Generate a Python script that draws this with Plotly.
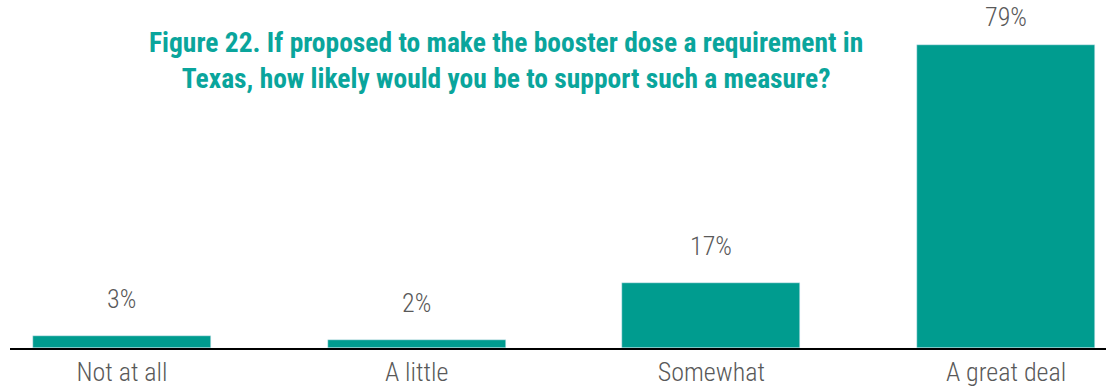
import plotly.graph_objects as go

categories = ["Not at all", "A little", "Somewhat", "A great deal"]
values = [3, 2, 17, 79]
value_labels = ["3%", "2%", "17%", "79%"]
title_lines = ["Figure 22. If proposed to make the booster dose a requirement in",
               "Texas, how likely would you be to support such a measure?"]

BAR = "#009C8F"
TITLE = "#0AA59C"
GREY = "#595959"
FONT = "Liberation Sans Narrow, Roboto Condensed, DejaVu Sans Condensed, sans-serif"

W, H = 1106, 387
ML, MR, MT, MB = 10, 0, 0, 37
YMAX = 90.7
plot_h = H - MT - MB
px_per_unit = plot_h / YMAX

fig = go.Figure()
fig.add_trace(go.Bar(x=list(range(len(categories))), y=values, marker_color=BAR,
                     width=0.604, hoverinfo="skip"))

label_h = 34
gap = 20
for i, (v, t) in enumerate(zip(values, value_labels)):
    room = (YMAX - v) * px_per_unit - label_h
    shift = max(0, min(gap, room))
    fig.add_annotation(x=i, y=v, text=t, showarrow=False, yanchor="bottom",
                       yshift=shift, font=dict(family=FONT, size=26, color=GREY, weight=300))

fig.add_annotation(xref="paper", yref="paper", x=(506 - ML) / (W - ML - MR), y=1.0 - 24 / plot_h,
                   xanchor="center", yanchor="top", showarrow=False,
                   text="<br>".join(title_lines), align="center",
                   font=dict(family=FONT, size=27.5, color=TITLE, weight="bold"))

fig.update_layout(
    width=W, height=H, margin=dict(l=ML, r=MR, t=MT, b=MB),
    paper_bgcolor="white", plot_bgcolor="white", showlegend=False,
    bargap=0,
    xaxis=dict(range=[-0.38, 3.339], tickmode="array", tickvals=list(range(len(categories))),
               ticktext=categories, showline=True, linecolor="black", linewidth=2,
               showgrid=False, zeroline=False, ticks="",
               tickfont=dict(family=FONT, size=26, color=GREY, weight=300)),
    yaxis=dict(range=[0, YMAX], visible=False, showgrid=False, zeroline=False),
)

fig.write_html("out.html")
